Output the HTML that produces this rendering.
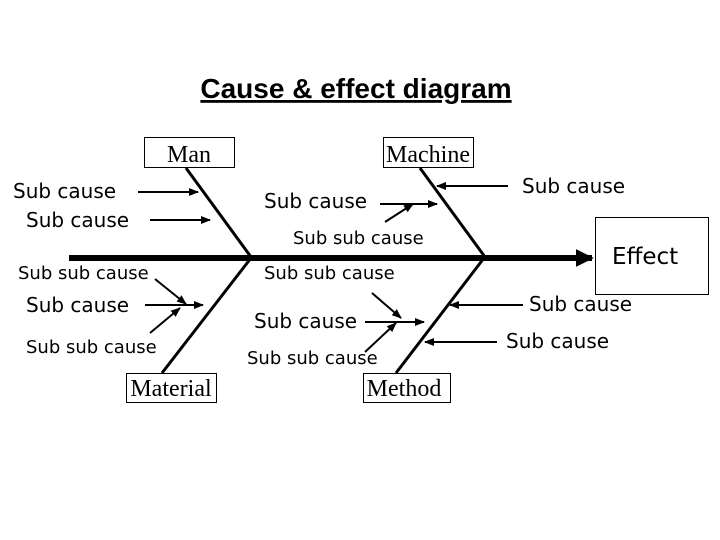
<!DOCTYPE html>
<html><head><meta charset="utf-8"><style>
html,body{margin:0;padding:0;background:#fff}
svg{display:block}
.l{font-family:"DejaVu Sans",sans-serif;font-size:20px;fill:#000}
.s{font-family:"DejaVu Sans",sans-serif;font-size:18px;fill:#000}
.t{font-family:"Liberation Serif",serif;font-size:24px;fill:#000}
</style></head><body>
<svg width="720" height="540" viewBox="0 0 720 540">
<defs>
<marker id="a" viewBox="0 0 10 10" refX="9" refY="5" markerWidth="5" markerHeight="5" orient="auto"><path d="M0,1 L10,5 L0,9 z" fill="#000"/></marker>
<marker id="b" viewBox="0 0 10 10" refX="9" refY="5" markerWidth="3" markerHeight="3" orient="auto"><path d="M0,0 L10,5 L0,10 z" fill="#000"/></marker>
</defs>
<text x="356" y="98" text-anchor="middle" style="font-family:'Liberation Sans',sans-serif;font-size:28px;font-weight:bold;text-decoration:underline">Cause &amp; effect diagram</text>
<g stroke="#000" fill="none">
<line x1="69" y1="258" x2="592" y2="258" stroke-width="6" marker-end="url(#b)"/>
<line x1="186" y1="168" x2="251" y2="257" stroke-width="3"/>
<line x1="251" y1="258" x2="162" y2="373" stroke-width="3"/>
<line x1="420" y1="168" x2="485" y2="257" stroke-width="3"/>
<line x1="484" y1="258" x2="396" y2="373" stroke-width="3"/>
<rect x="144.5" y="137.5" width="90" height="30" stroke-width="1"/>
<rect x="383.5" y="137.5" width="90" height="30" stroke-width="1"/>
<rect x="126.5" y="373.5" width="90" height="29" stroke-width="1"/>
<rect x="363.5" y="373.5" width="87" height="29" stroke-width="1"/>
<rect x="595.5" y="217.5" width="113" height="77" stroke-width="1"/>
<g stroke-width="2" marker-end="url(#a)">
<line x1="138" y1="192" x2="198" y2="192"/>
<line x1="150" y1="220" x2="210" y2="220"/>
<line x1="155" y1="279" x2="186" y2="304"/>
<line x1="145" y1="305" x2="203" y2="305"/>
<line x1="150" y1="333" x2="180" y2="308"/>
<line x1="380" y1="204" x2="437" y2="204"/>
<line x1="385" y1="222" x2="413" y2="204"/>
<line x1="372" y1="293" x2="401" y2="318"/>
<line x1="365" y1="322" x2="424" y2="322"/>
<line x1="365" y1="352" x2="396" y2="323"/>
<line x1="508" y1="186" x2="437" y2="186"/>
<line x1="523" y1="305" x2="450" y2="305"/>
<line x1="497" y1="342" x2="425" y2="342"/>
</g>
</g>
<text class="t" x="189" y="162" text-anchor="middle">Man</text>
<text class="t" x="428" y="162" text-anchor="middle">Machine</text>
<text class="t" x="171" y="396" text-anchor="middle">Material</text>
<text class="t" x="404" y="396" text-anchor="middle">Method</text>
<text x="612" y="264" style="font-family:'DejaVu Sans',sans-serif;font-size:23px">Effect</text>
<text class="l" x="13" y="198">Sub cause</text>
<text class="l" x="26" y="227">Sub cause</text>
<text class="s" x="18" y="279">Sub sub cause</text>
<text class="l" x="26" y="312">Sub cause</text>
<text class="s" x="26" y="353">Sub sub cause</text>
<text class="l" x="264" y="208">Sub cause</text>
<text class="s" x="293" y="244">Sub sub cause</text>
<text class="s" x="264" y="279">Sub sub cause</text>
<text class="l" x="254" y="328">Sub cause</text>
<text class="s" x="247" y="364">Sub sub cause</text>
<text class="l" x="522" y="193">Sub cause</text>
<text class="l" x="529" y="311">Sub cause</text>
<text class="l" x="506" y="348">Sub cause</text>
</svg>
</body></html>
